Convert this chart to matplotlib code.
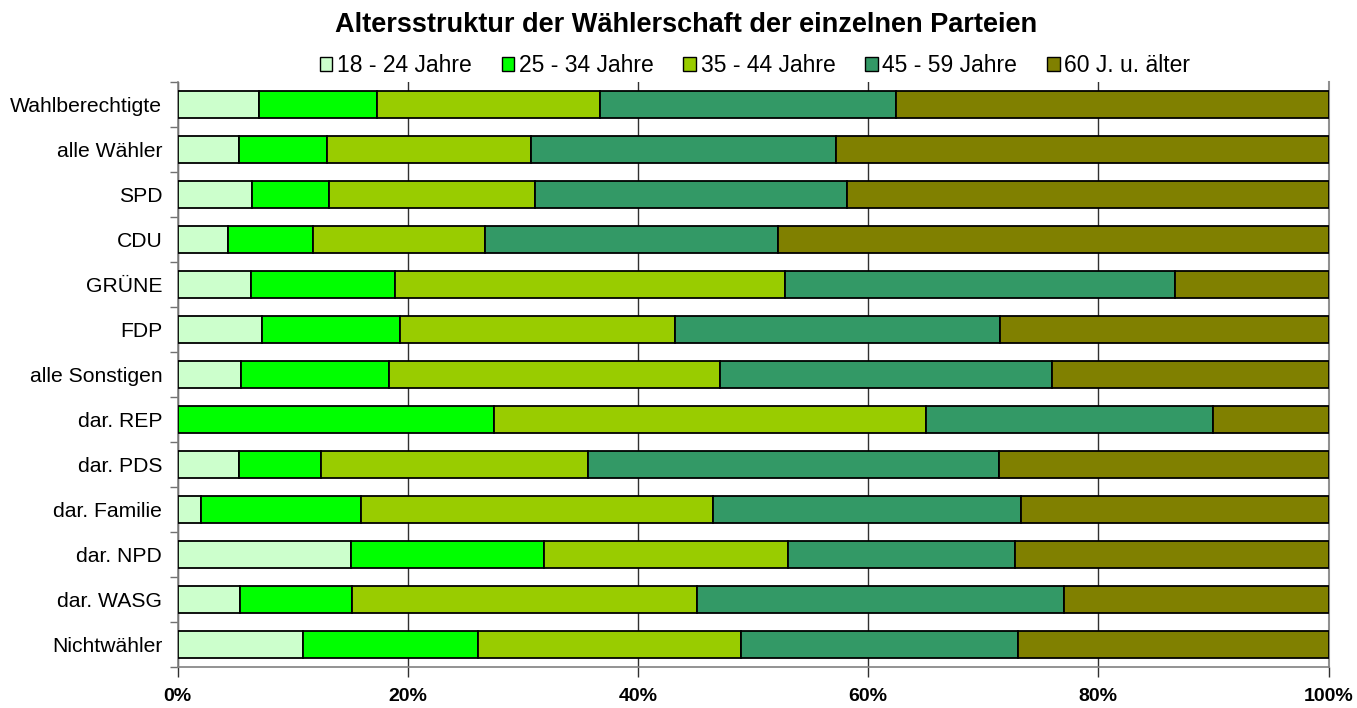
import matplotlib
matplotlib.use("Agg")
import matplotlib.pyplot as plt
import numpy as np
from matplotlib.ticker import FixedLocator, PercentFormatter

plt.rcParams['font.family'] = ['Liberation Sans', 'DejaVu Sans']

categories = ["Wahlberechtigte", "alle Wähler", "SPD", "CDU", "GRÜNE", "FDP",
              "alle Sonstigen", "dar. REP", "dar. PDS", "dar. Familie", "dar. NPD",
              "dar. WASG", "Nichtwähler"]
series_names = ["18 - 24 Jahre", "25 - 34 Jahre", "35 - 44 Jahre", "45 - 59 Jahre", "60 J. u. älter"]
age_18_24 = [7.1, 5.3, 6.5, 4.4, 6.4, 7.3, 5.5, 0.0, 5.3, 2.0, 15.1, 5.4, 10.9]
age_25_34 = [10.2, 7.7, 6.7, 7.4, 12.5, 12.0, 12.9, 27.5, 7.2, 13.9, 16.7, 9.8, 15.2]
age_35_44 = [19.4, 17.7, 17.9, 14.9, 33.9, 23.9, 28.7, 37.5, 23.2, 30.6, 21.2, 29.9, 22.9]
age_45_59 = [25.7, 26.5, 27.1, 25.5, 33.9, 28.3, 28.9, 25.0, 35.7, 26.8, 19.8, 31.9, 24.0]
age_60_up = [37.6, 42.8, 41.8, 47.8, 13.3, 28.5, 24.0, 10.0, 28.6, 26.7, 27.2, 23.0, 27.0]
colors = ["#CCFFCC", "#00FF00", "#99CC00", "#339966", "#808000"]
xtick_values = [0, 20, 40, 60, 80, 100]

series = [age_18_24, age_25_34, age_35_44, age_45_59, age_60_up]

fig = plt.figure(figsize=(13.57, 7.08), dpi=100)
ax = fig.add_axes([177.5/1357, 1-667/708, (1328.5-177.5)/1357, (667-82)/708])

y = np.arange(len(categories))
tot = np.array([sum(s[i] for s in series) for i in range(len(categories))])
left = np.zeros(len(categories))
for name, vals, col in zip(series_names, series, colors):
    w = np.array(vals, dtype=float) / tot * 100
    ax.barh(y, w, left=left, height=0.59, color=col, edgecolor="black",
            linewidth=1.3, label=name, zorder=3)
    left = left + w

ax.set_xlim(0, 100)
ax.set_ylim(len(categories) - 0.5, -0.5)

ax.set_xticks(xtick_values)
ax.xaxis.set_major_formatter(PercentFormatter(decimals=0))
ax.xaxis.grid(True, color="#303030", linewidth=1.0, zorder=0)
ax.set_axisbelow(True)
for lab in ax.get_xticklabels():
    lab.set_fontweight("bold")
ax.tick_params(axis="x", labelsize=14, length=7, width=1, color="#303030", pad=8)

ax.set_yticks(y)
ax.set_yticklabels(categories)
ax.yaxis.set_minor_locator(FixedLocator(np.arange(-0.5, len(categories), 1.0)))
ax.tick_params(axis="y", which="major", length=0, labelsize=15.2, pad=11)
ax.tick_params(axis="y", which="minor", length=6, width=1, color="#707070")

ax.spines["top"].set_visible(False)
ax.spines["right"].set_color("#909090")
ax.spines["right"].set_linewidth(1.5)
ax.spines["left"].set_color("#808080")
ax.spines["bottom"].set_color("#808080")
for s in ["left", "bottom"]:
    ax.spines[s].set_linewidth(1.2)

fig.text(686/1357, 1-25/708, "Altersstruktur der Wählerschaft der einzelnen Parteien",
         ha="center", va="center", fontsize=19.5, fontweight="bold")

leg = fig.legend(loc="center", bbox_to_anchor=(755/1357, 1-66/708), ncol=5, frameon=False,
                 fontsize=16.5, handlelength=0.55, handleheight=0.55, handletextpad=0.2,
                 columnspacing=1.3, borderpad=0)
for h in leg.legend_handles:
    h.set_linewidth(1.0)

fig.savefig("out.png", dpi=100)
